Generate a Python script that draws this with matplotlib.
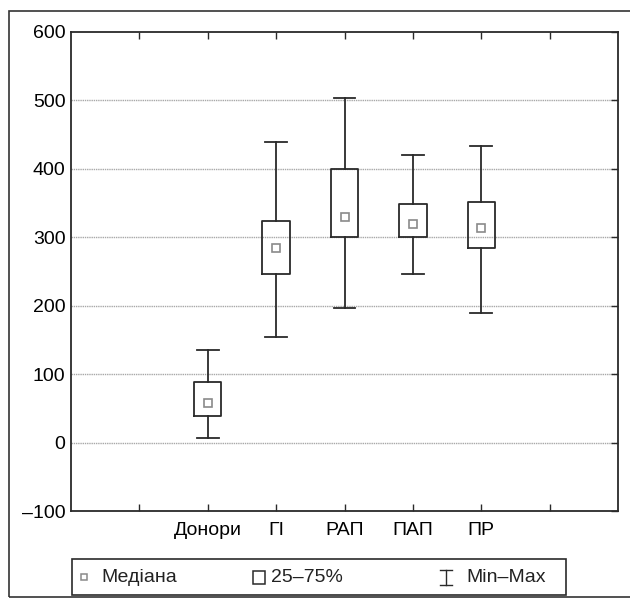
import matplotlib
matplotlib.use("Agg")
import matplotlib.pyplot as plt
from matplotlib.patches import Rectangle
from matplotlib.lines import Line2D

plt.rcParams['font.family'] = ['Liberation Sans', 'DejaVu Sans']

categories = ["Донори", "ГІ", "РАП", "ПАП", "ПР"]
mins = [6, 154, 197, 246, 190]
q1 = [39, 247, 300, 300, 284]
medians = [58, 285, 329, 320, 313]
q3 = [88, 324, 400, 349, 351]
maxs = [135, 439, 503, 420, 433]
yticks = [-100, 0, 100, 200, 300, 400, 500, 600]
legend_labels = ["Медіана", "25–75%", "Min–Max"]

W, H = 630, 598
fig = plt.figure(figsize=(W / 100, H / 100), dpi=100)

def fx(px):
    return px / W

def fy(py):
    return 1 - py / H

# outer frame
fig.patches.append(Rectangle((fx(9), fy(597)), fx(630) - fx(9) + 0.01, fy(10.5) - fy(597),
                             transform=fig.transFigure, fill=False, edgecolor='#333333',
                             linewidth=1.2, clip_on=False))

ax = fig.add_axes([fx(71), fy(511), fx(618) - fx(71), fy(32) - fy(511)])
positions = list(range(2, 2 + len(categories)))
stats = []
for lo, a, m, b, hi in zip(mins, q1, medians, q3, maxs):
    stats.append(dict(med=m, q1=a, q3=b, whislo=lo, whishi=hi, fliers=[]))
lc = '#2a2a2a'
ax.bxp(stats, positions=positions, widths=0.4, capwidths=0.32, showfliers=False,
       boxprops=dict(color=lc, linewidth=1.3),
       whiskerprops=dict(color=lc, linewidth=1.3),
       capprops=dict(color=lc, linewidth=1.3),
       medianprops=dict(visible=False), zorder=3)
ax.plot(positions, medians, linestyle='none', marker='s', markersize=5.5,
        markerfacecolor='white', markeredgecolor='#8a8a8a', markeredgewidth=1.2, zorder=4)

ax.set_xlim(0, 8)
ax.set_ylim(-100, 600)
ax.set_yticks(yticks)
ax.set_yticklabels([str(v).replace('-', '–') for v in yticks])
ax.set_xticks(range(1, 8))
ax.set_xticklabels([""] + categories + [""])
for v in yticks[1:-1]:
    ax.axhline(v, color='#a8a8a8', linewidth=1.0, linestyle=(0, (1, 0.6)), zorder=1)
ax.tick_params(axis='x', which='both', direction='in', top=True, bottom=True,
               length=5, width=1, color=lc, labelsize=14, pad=8)
ax.tick_params(axis='y', which='both', direction='in', left=False, right=True,
               length=5, width=1, color=lc, labelsize=14, pad=4)
for s in ax.spines.values():
    s.set_color(lc)
    s.set_linewidth(1.3)

# legend (drawn manually)
fig.patches.append(Rectangle((fx(72), fy(595)), fx(566) - fx(72), fy(559) - fy(595),
                             transform=fig.transFigure, fill=False, edgecolor=lc,
                             linewidth=1.2, clip_on=False))
ly = fy(577)
fig.lines.append(Line2D([fx(84)], [ly], transform=fig.transFigure, marker='s',
                        markersize=5, markerfacecolor='white', markeredgecolor='#8a8a8a',
                        markeredgewidth=1.1, linestyle='none'))
fig.text(fx(101), ly, legend_labels[0], fontsize=14, va='center', ha='left', color='#222222')
fig.patches.append(Rectangle((fx(253), fy(584)), fx(265) - fx(253), fy(571) - fy(584),
                             transform=fig.transFigure, fill=False, edgecolor=lc,
                             linewidth=1.1))
fig.text(fx(271), ly, legend_labels[1], fontsize=14, va='center', ha='left', color='#222222')
ix = fx(446)
fig.lines.append(Line2D([ix, ix], [fy(585), fy(570)], transform=fig.transFigure, color=lc, linewidth=1.0))
fig.lines.append(Line2D([fx(440), fx(452)], [fy(585), fy(585)], transform=fig.transFigure, color=lc, linewidth=1.0))
fig.lines.append(Line2D([fx(440), fx(452)], [fy(570), fy(570)], transform=fig.transFigure, color=lc, linewidth=1.0))
fig.text(fx(466), ly, legend_labels[2], fontsize=14, va='center', ha='left', color='#222222')

fig.savefig("out.png", dpi=100)
